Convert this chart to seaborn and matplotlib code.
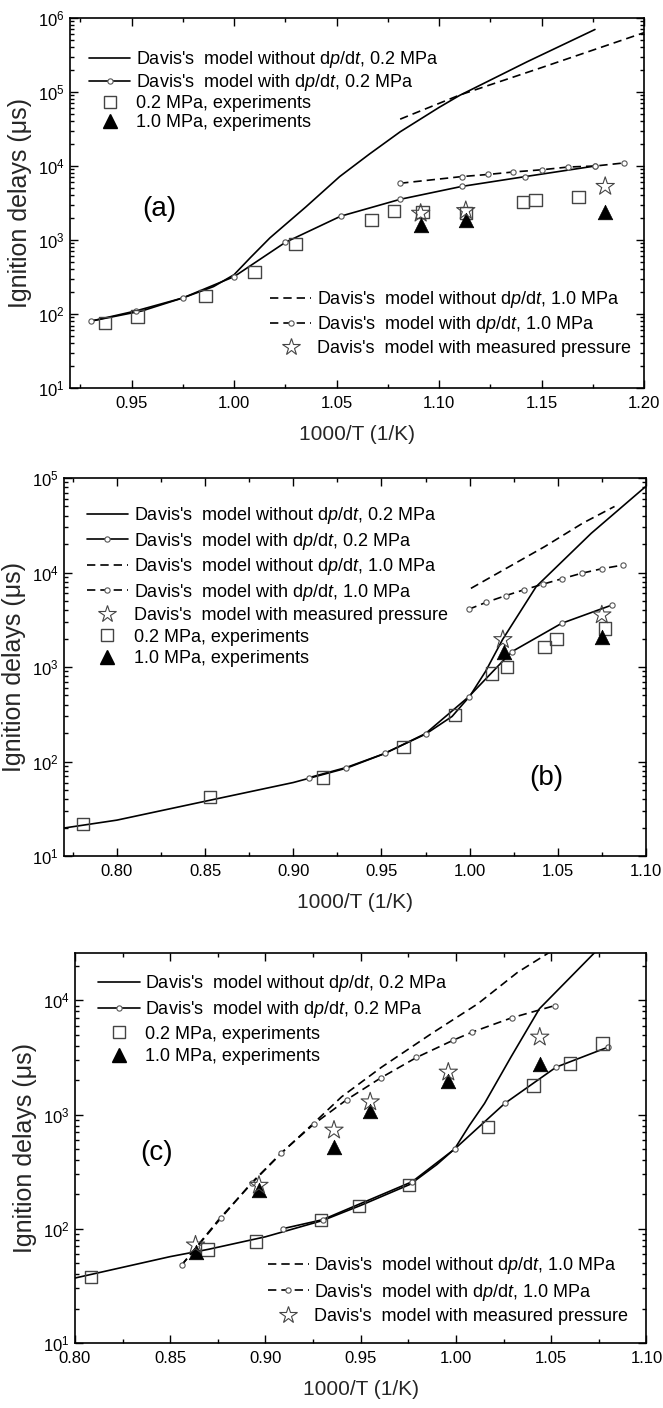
import matplotlib
matplotlib.use("Agg")
import matplotlib.pyplot as plt
from matplotlib.lines import Line2D
from matplotlib.ticker import MultipleLocator, LogLocator, NullFormatter
import numpy as np
import pandas as pd
import seaborn as sns

# ---------------- panel (a) ----------------
a_nodp02_x = [0.930, 0.955, 0.975, 0.990, 1.000, 1.008, 1.0175, 1.035, 1.0515, 1.066, 1.081, 1.100, 1.110, 1.143, 1.176]
a_nodp02_y = [80, 110, 165, 235, 340, 580, 1070, 2800, 7200, 14500, 29000, 62000, 90000, 257000, 700000]
a_dp02_x = [0.930, 0.952, 0.975, 1.000, 1.025, 1.052, 1.081, 1.111, 1.142, 1.176]
a_dp02_y = [80, 110, 165, 320, 930, 2100, 3550, 5300, 7200, 10000]
a_nodp10_x = [1.081, 1.110, 1.150, 1.200]
a_nodp10_y = [43000, 91000, 214000, 635000]
a_dp10_x = [1.081, 1.111, 1.124, 1.136, 1.150, 1.163, 1.176, 1.190]
a_dp10_y = [5850, 7200, 7700, 8300, 8900, 9700, 10000, 11000]
a_sq_x = [0.937, 0.953, 0.986, 1.010, 1.030, 1.067, 1.078, 1.092, 1.113, 1.141, 1.147, 1.168]
a_sq_y = [76, 93, 175, 370, 890, 1870, 2450, 2400, 2300, 3250, 3500, 3800]
a_tri_x = [1.091, 1.113, 1.181]
a_tri_y = [1600, 1860, 2400]
a_star_x = [1.091, 1.113, 1.181]
a_star_y = [2300, 2500, 5300]

# ---------------- panel (b) ----------------
b_nodp02_x = [0.77, 0.80, 0.85, 0.90, 0.93, 0.95, 0.975, 0.99, 1.00, 1.009, 1.0186, 1.0377, 1.0689, 1.10]
b_nodp02_y = [19.8, 24, 38, 60, 85, 118, 195, 300, 490, 900, 1950, 7100, 26000, 82000]
b_dp02_x = [0.909, 0.930, 0.952, 0.975, 0.9994, 1.0238, 1.0521, 1.0808]
b_dp02_y = [67.6, 86.5, 122, 198, 484, 1450, 2900, 4540]
b_nodp10_x = [1.0007, 1.0425, 1.0641, 1.0821]
b_nodp10_y = [6800, 18800, 33300, 50000]
b_dp10_x = [0.9994, 1.0095, 1.0205, 1.0306, 1.0414, 1.0521, 1.0636, 1.0749, 1.0869]
b_dp10_y = [4080, 4850, 5700, 6550, 7520, 8570, 9840, 10960, 12000]
b_sq_x = [0.7808, 0.8527, 0.9169, 0.9624, 0.9918, 1.0126, 1.021, 1.0425, 1.0492, 1.0768]
b_sq_y = [21.7, 42, 67.6, 143, 310, 850, 1000, 1640, 1980, 2570]
b_tri_x = [1.0195, 1.0749]
b_tri_y = [1450, 2100]
b_star_x = [1.0188, 1.0749]
b_star_y = [1950, 3560]

# ---------------- panel (c) ----------------
c_nodp02_x = [0.80, 0.85, 0.87, 0.90, 0.93, 0.95, 0.976, 0.99, 0.9993, 1.007, 1.015, 1.0289, 1.0438, 1.0738, 1.085]
c_nodp02_y = [37, 57, 66, 85, 118, 160, 245, 365, 500, 800, 1250, 3190, 8430, 27200, 45000]
c_dp02_x = [0.909, 0.930, 0.977, 0.9994, 1.0256, 1.0526, 1.080]
c_dp02_y = [100, 120, 258, 500, 1250, 2600, 3900]
c_nodp10_x = [0.856, 0.876, 0.893, 0.909, 0.925, 0.94, 0.961, 0.987, 1.0115, 1.0324, 1.052]
c_nodp10_y = [48, 123, 252, 470, 830, 1430, 2600, 5090, 9330, 17600, 28200]
c_dp10_x = [0.856, 0.8765, 0.8927, 0.9084, 0.9253, 0.9427, 0.9607, 0.9793, 0.9984, 1.0084, 1.0293, 1.052]
c_dp10_y = [48, 123, 252, 462, 822, 1350, 2100, 3160, 4460, 5260, 7030, 9000]
c_sq_x = [0.8085, 0.8695, 0.895, 0.9293, 0.949, 0.9754, 1.0167, 1.0408, 1.06, 1.077]
c_sq_y = [37.7, 66, 77, 119, 158, 241, 780, 1800, 2790, 4170]
c_tri_x = [0.8633, 0.8966, 0.936, 0.955, 0.996, 1.044]
c_tri_y = [63, 219, 521, 1075, 1960, 2790]
c_star_x = [0.8633, 0.8966, 0.936, 0.955, 0.996, 1.044]
c_star_y = [72, 240, 730, 1290, 2350, 4760]

DPDT = r"d$\mathit{p}$/d$\mathit{t}$"
LBL_NODP02 = "Davis's  model without " + DPDT + ", 0.2 MPa"
LBL_DP02 = "Davis's  model with " + DPDT + ", 0.2 MPa"
LBL_NODP10 = "Davis's  model without " + DPDT + ", 1.0 MPa"
LBL_DP10 = "Davis's  model with " + DPDT + ", 1.0 MPa"
LBL_STAR = "Davis's  model with measured pressure"
LBL_SQ = "0.2 MPa, experiments"
LBL_TRI = "1.0 MPa, experiments"

# Style
sns.set_theme(style="ticks")
plt.rcParams.update({
    "font.family": ["Liberation Sans", "DejaVu Sans"],
    "mathtext.fontset": "custom",
    "mathtext.rm": "Liberation Sans",
    "mathtext.it": "Liberation Sans:italic",
    "axes.linewidth": 1.2,
    "axes.edgecolor": "black",
    "text.color": "black",
    "xtick.color": "black",
    "ytick.color": "black",
})

LW = 1.2
DASH = (0, (5, 3))
GRAY = "#444444"
CIRC = dict(marker="o", markersize=3.8, markerfacecolor="white",
            markeredgecolor="#555555", markeredgewidth=0.8)


def draw_line(ax, x, y, ls="-", circles=False):
    df = pd.DataFrame({"x": x, "y": y})
    kws = dict(CIRC) if circles else {}
    sns.lineplot(data=df, x="x", y="y", ax=ax, color="black", lw=LW,
                 linestyle=ls, sort=False, estimator=None, legend=False, **kws)


def draw_points(ax, x, y, kind):
    df = pd.DataFrame({"x": x, "y": y})
    if kind == "sq":
        sns.scatterplot(data=df, x="x", y="y", ax=ax, marker="s", s=80,
                        facecolors="none", edgecolor=GRAY, linewidth=1.0,
                        legend=False, zorder=4)
    elif kind == "tri":
        sns.scatterplot(data=df, x="x", y="y", ax=ax, marker="^", s=110,
                        color="black", edgecolor="black", linewidth=0.5,
                        legend=False, zorder=5)
    else:
        sns.scatterplot(data=df, x="x", y="y", ax=ax, marker="*", s=190,
                        facecolors="none", edgecolor=GRAY, linewidth=0.8,
                        legend=False, zorder=6)


def handle(kind):
    if kind == "nodp02":
        return Line2D([], [], color="black", lw=LW, ls="-")
    if kind == "dp02":
        return Line2D([], [], color="black", lw=LW, ls="-", **CIRC)
    if kind == "nodp10":
        return Line2D([], [], color="black", lw=LW, ls=DASH)
    if kind == "dp10":
        return Line2D([], [], color="black", lw=LW, ls=DASH, **CIRC)
    if kind == "sq":
        return Line2D([], [], ls="none", marker="s", ms=9, mfc="none", mec=GRAY, mew=1.0)
    if kind == "tri":
        return Line2D([], [], ls="none", marker="^", ms=10.5, mfc="black", mec="black")
    return Line2D([], [], ls="none", marker="*", ms=13, mfc="none", mec=GRAY, mew=0.8)


LABELS = {"nodp02": LBL_NODP02, "dp02": LBL_DP02, "nodp10": LBL_NODP10,
          "dp10": LBL_DP10, "star": LBL_STAR, "sq": LBL_SQ, "tri": LBL_TRI}


def add_legend(ax, kinds, anchor, spacing):
    leg = ax.legend([handle(k) for k in kinds], [LABELS[k] for k in kinds],
                    loc="upper left", bbox_to_anchor=anchor, frameon=False,
                    fontsize=13, handlelength=2.3, handletextpad=0.3,
                    labelspacing=spacing, borderpad=0, borderaxespad=0,
                    numpoints=1)
    return leg


def style_axes(ax, xlim, ylim, xmajor):
    ax.set_yscale("log")
    ax.set_xlim(*xlim)
    ax.set_ylim(*ylim)
    ax.xaxis.set_major_locator(MultipleLocator(xmajor))
    ax.xaxis.set_minor_locator(MultipleLocator(xmajor / 2))
    ax.xaxis.set_major_formatter(matplotlib.ticker.FormatStrFormatter("%.2f"))
    ax.yaxis.set_major_locator(LogLocator(base=10, numticks=20))
    ax.yaxis.set_minor_locator(LogLocator(base=10, subs=np.arange(2, 10), numticks=20))
    ax.yaxis.set_minor_formatter(NullFormatter())
    ax.tick_params(which="both", direction="in", top=True, right=True, width=1.0)
    ax.tick_params(which="major", length=6)
    ax.tick_params(which="minor", length=3)
    ax.tick_params(axis="x", labelsize=12, pad=6)
    ax.tick_params(axis="y", labelsize=12, pad=4)
    ax.set_xlabel("1000/T (1/K)", fontsize=15, labelpad=10)
    ax.set_ylabel("Ignition delays (\u03bcs)", fontsize=18, labelpad=4)


fig = plt.figure(figsize=(6.63, 14.08), dpi=100)
ax_a = fig.add_axes([0.1056, 0.7244, 0.866, 0.2628])
ax_b = fig.add_axes([0.0965, 0.392, 0.878, 0.2685])
ax_c = fig.add_axes([0.113, 0.0462, 0.862, 0.277])

# ---- (a)
draw_line(ax_a, a_nodp02_x, a_nodp02_y)
draw_line(ax_a, a_dp02_x, a_dp02_y, circles=True)
draw_line(ax_a, a_nodp10_x, a_nodp10_y, ls=DASH)
draw_line(ax_a, a_dp10_x, a_dp10_y, ls=DASH, circles=True)
draw_points(ax_a, a_sq_x, a_sq_y, "sq")
draw_points(ax_a, a_tri_x, a_tri_y, "tri")
draw_points(ax_a, a_star_x, a_star_y, "star")
style_axes(ax_a, (0.92, 1.20), (10, 1e6), 0.05)
leg1 = add_legend(ax_a, ["nodp02", "dp02", "sq", "tri"], (0.033, 0.915), 0.1)
ax_a.add_artist(leg1)
add_legend(ax_a, ["nodp10", "dp10", "star"], (0.348, 0.268), 0.25)
ax_a.text(0.155, 0.485, "(a)", transform=ax_a.transAxes, fontsize=20,
          ha="center", va="center")

# ---- (b)
draw_line(ax_b, b_nodp02_x, b_nodp02_y)
draw_line(ax_b, b_dp02_x, b_dp02_y, circles=True)
draw_line(ax_b, b_nodp10_x, b_nodp10_y, ls=DASH)
draw_line(ax_b, b_dp10_x, b_dp10_y, ls=DASH, circles=True)
draw_points(ax_b, b_sq_x, b_sq_y, "sq")
draw_points(ax_b, b_tri_x, b_tri_y, "tri")
draw_points(ax_b, b_star_x, b_star_y, "star")
style_axes(ax_b, (0.77, 1.10), (10, 1e5), 0.05)
add_legend(ax_b, ["nodp02", "dp02", "nodp10", "dp10", "star", "sq", "tri"],
           (0.039, 0.928), 0.25)
ax_b.text(0.828, 0.206, "(b)", transform=ax_b.transAxes, fontsize=20,
          ha="center", va="center")

# ---- (c)
draw_line(ax_c, c_nodp02_x, c_nodp02_y)
draw_line(ax_c, c_dp02_x, c_dp02_y, circles=True)
draw_line(ax_c, c_nodp10_x, c_nodp10_y, ls=DASH)
draw_line(ax_c, c_dp10_x, c_dp10_y, ls=DASH, circles=True)
draw_points(ax_c, c_sq_x, c_sq_y, "sq")
draw_points(ax_c, c_tri_x, c_tri_y, "tri")
draw_points(ax_c, c_star_x, c_star_y, "star")
style_axes(ax_c, (0.80, 1.10), (10, 2.6e4), 0.05)
leg3 = add_legend(ax_c, ["nodp02", "dp02", "sq", "tri"], (0.041, 0.949), 0.3)
ax_c.add_artist(leg3)
add_legend(ax_c, ["nodp10", "dp10", "star"], (0.337, 0.225), 0.3)
ax_c.text(0.142, 0.487, "(c)", transform=ax_c.transAxes, fontsize=20,
          ha="center", va="center")

for ax in (ax_a, ax_b, ax_c):
    for s in ax.spines.values():
        s.set_visible(True)
        s.set_linewidth(1.2)

fig.savefig("out.png", dpi=100)
